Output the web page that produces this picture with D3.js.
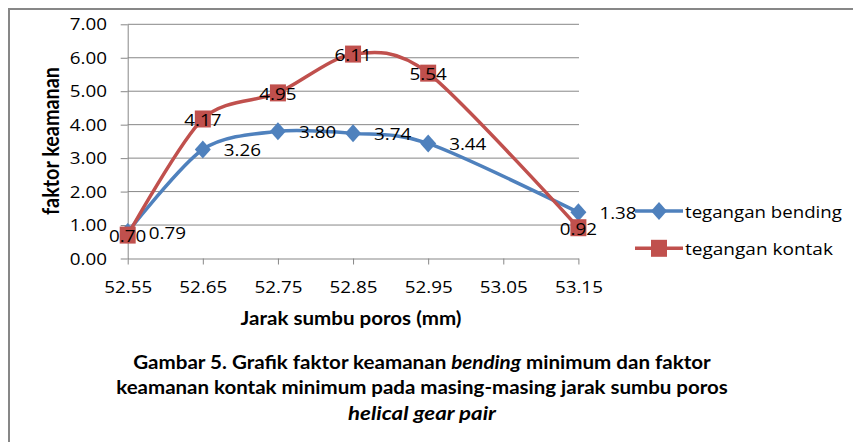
<!DOCTYPE html>
<html><head><meta charset="utf-8">
<script src="https://cdn.jsdelivr.net/npm/d3@7"></script>
<style>body{margin:0;background:#fff}svg{display:block}</style>
</head><body><svg id="c" width="853" height="442"></svg>
<script>
// ---- data ----
const xValues = [52.55, 52.65, 52.75, 52.85, 52.95, 53.15];
const bendingValues = [0.79, 3.26, 3.80, 3.74, 3.44, 1.38];
const kontakValues = [0.70, 4.17, 4.95, 6.11, 5.54, 0.92];
const xTickValues = [52.55, 52.65, 52.75, 52.85, 52.95, 53.05, 53.15];
const yTickValues = [0, 1, 2, 3, 4, 5, 6, 7];
const seriesNames = ["tegangan bending", "tegangan kontak"];
const xTitle = "Jarak sumbu poros (mm)";
const yTitle = "faktor keamanan";
const captionLines = [
  [["Gambar 5. Grafik faktor keamanan ", false], ["bending", true], [" minimum dan faktor", false]],
  [["keamanan kontak minimum pada masing-masing jarak sumbu poros", false]],
  [["helical gear pair", true]]
];

// ---- setup ----
const FONT = "'Open Sans', Lato, sans-serif";
const BFONT = "Lato, 'Open Sans', sans-serif";
const BLUE = "#4F81BD", RED = "#C0504D", GRID = "#878787";
const svg = d3.select("#c");
svg.append("rect").attr("width", 853).attr("height", 442).attr("fill", "#fff");
svg.append("rect").attr("x", 9).attr("y", 9).attr("width", 900).attr("height", 500)
  .attr("fill", "none").attr("stroke", GRID).attr("stroke-width", 2);

const x = d3.scaleLinear().domain([52.55, 53.15]).range([127.7, 578.4]);
const y = d3.scaleLinear().domain([0, 7]).range([258.5, 24.3]);

function measure(str, size, weight, style, fam) {
  const t = svg.append("text").attr("font-family", fam || FONT).attr("font-size", size)
    .attr("font-weight", weight || "normal").attr("font-style", style || "normal").text(str);
  const w = t.node().getComputedTextLength();
  t.remove();
  return w;
}
const TS = 15.5;
const SX = 48 / measure("52.55", TS);
const HALF = 5.5; // half digit height

// gridlines
svg.append("g").selectAll("line").data(yTickValues.filter(d => d > 0)).join("line")
  .attr("x1", x.range()[0]).attr("x2", 579)
  .attr("y1", d => y(d)).attr("y2", d => y(d))
  .attr("stroke", GRID).attr("stroke-width", 1);

// y axis
const gy = svg.append("g").attr("transform", `translate(${x.range()[0]},0)`)
  .call(d3.axisLeft(y).tickValues(yTickValues).tickSize(7).tickSizeOuter(0).tickFormat(d3.format(".2f")))
  .attr("color", GRID).attr("font-family", FONT).attr("font-size", TS);
gy.selectAll("text").attr("x", null).attr("dy", null).attr("fill", "#000")
  .attr("transform", `translate(-20.7,${HALF}) scale(${SX},1)`);

// x axis
const gx = svg.append("g").attr("transform", `translate(0,${y(0)})`)
  .call(d3.axisBottom(x).tickValues(xTickValues).tickSize(6).tickSizeOuter(0).tickFormat(d3.format(".2f")))
  .attr("color", GRID).attr("font-family", FONT).attr("font-size", TS);
gx.selectAll("text").attr("y", null).attr("dy", null).attr("fill", "#000")
  .attr("transform", `translate(0,34.2) scale(${SX},1)`);

// series
const line = d3.line().x((d, i) => x(xValues[i])).y(d => y(d)).curve(d3.curveCardinal.tension(0.15));
const diamond = "M0,-9L8,0L0,9L-8,0Z";

svg.append("path").datum(bendingValues).attr("d", line).attr("fill", "none")
  .attr("stroke", BLUE).attr("stroke-width", 3.5).attr("stroke-linejoin", "round");
svg.append("g").selectAll("path").data(bendingValues).join("path")
  .attr("d", diamond).attr("fill", BLUE)
  .attr("transform", (d, i) => `translate(${x(xValues[i])},${y(d)})`);

svg.append("path").datum(kontakValues).attr("d", line).attr("fill", "none")
  .attr("stroke", RED).attr("stroke-width", 3.5).attr("stroke-linejoin", "round");
svg.append("g").selectAll("rect").data(kontakValues).join("rect")
  .attr("x", (d, i) => x(xValues[i]) - 8).attr("y", d => y(d) - 8.5)
  .attr("width", 16).attr("height", 17).attr("fill", RED);

// data labels
const fmt = d3.format(".2f");
function lbl(str, px, py, anchor) {
  svg.append("text").attr("font-family", FONT).attr("font-size", TS).attr("fill", "#000")
    .attr("text-anchor", anchor)
    .attr("transform", `translate(${px},${py}) scale(${SX},1)`).text(str);
}
bendingValues.forEach((d, i) => lbl(fmt(d), x(xValues[i]) + 21, y(d) + 1 + HALF, "start"));
kontakValues.forEach((d, i) => lbl(fmt(d), x(xValues[i]), y(d) + 1.5 + HALF, "middle"));

// legend
const legY = [211, 248.3];
[BLUE, RED].forEach((c, i) => {
  const g = svg.append("g").attr("transform", `translate(0,${legY[i]})`);
  g.append("line").attr("x1", 635).attr("x2", 683).attr("stroke", c).attr("stroke-width", 3.5);
  if (i === 0) g.append("path").attr("d", diamond).attr("fill", c).attr("transform", "translate(659,0)");
  else g.append("rect").attr("x", 651).attr("y", -8.5).attr("width", 16).attr("height", 17).attr("fill", c);
  const w = measure(seriesNames[i], TS);
  const target = i === 0 ? 157 : 148;
  g.append("text").attr("font-family", FONT).attr("font-size", TS).attr("fill", "#000")
    .attr("transform", `translate(685,7) scale(${target / w},1)`).text(seriesNames[i]);
});

// axis titles
const TT = 18;
{
  const w = measure(xTitle, TT, "bold", null, BFONT);
  svg.append("text").attr("font-family", BFONT).attr("font-size", TT).attr("font-weight", "bold")
    .attr("text-anchor", "middle").attr("transform", `translate(351,325) scale(${221 / w},1)`).text(xTitle);
  const w2 = measure(yTitle, TT, "bold", null, BFONT);
  svg.append("text").attr("font-family", BFONT).attr("font-size", TT).attr("font-weight", "bold")
    .attr("text-anchor", "middle")
    .attr("transform", `translate(59,141) rotate(-90) scale(${148 / w2},${SX})`).text(yTitle);
}

// caption
const capBase = [369, 394.3, 420];
const capWidth = [578, 612, 148];
const CS = 18.5;
captionLines.forEach((parts, li) => {
  const t = svg.append("text").attr("font-family", BFONT).attr("font-size", CS).attr("font-weight", "bold")
    .attr("text-anchor", "middle");
  parts.forEach(([s, it]) => t.append("tspan").attr("font-style", it ? "italic" : "normal").text(s));
  const w = t.node().getComputedTextLength();
  t.attr("transform", `translate(422,${capBase[li]}) scale(${capWidth[li] / w},1)`);
});
</script></body></html>
